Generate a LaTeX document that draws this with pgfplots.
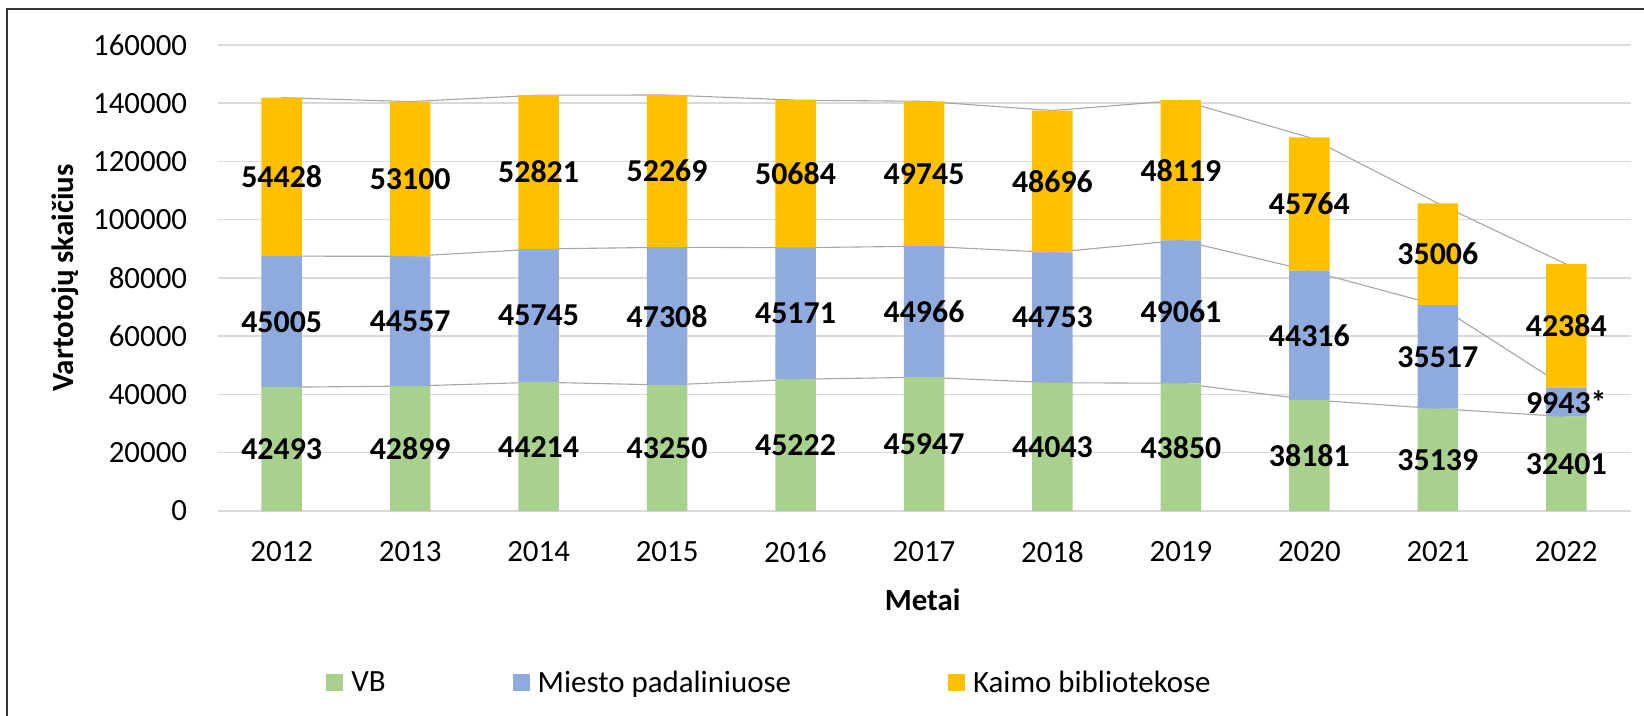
\documentclass[border=0pt]{standalone}
\usepackage{pgfplots}
\pgfplotsset{compat=1.18}
\usepackage{pgfplotstable}
\usepackage{fontspec}
\setmainfont{Carlito}
\definecolor{cVB}{HTML}{A9D18E}
\definecolor{cMiesto}{HTML}{8FAADC}
\definecolor{cKaimo}{HTML}{FFC000}
\definecolor{cGrid}{HTML}{D9D9D9}
\definecolor{cSer}{HTML}{A6A6A6}
\pgfplotstableread{
x year vb miesto kaimo mlab
0 2012 42493 45005 54428 45005
1 2013 42899 44557 53100 44557
2 2014 44214 45745 52821 45745
3 2015 43250 47308 52269 47308
4 2016 45222 45171 50684 45171
5 2017 45947 44966 49745 44966
6 2018 44043 44753 48696 44753
7 2019 43850 49061 48119 49061
8 2020 38181 44316 45764 44316
9 2021 35139 35517 35006 35517
10 2022 32401 9943 42384 9943*
}\data
\pgfplotsset{
  base/.style={
    scale only axis, width=706.5bp, height=233bp,
    at={(108.75bp,102.5bp)}, anchor=south west,
    xmin=-0.5, xmax=10.5, ymin=0, ymax=160000,
    axis line style={draw=none}, major tick length=0pt,
    xtick={0,...,10}, ytick={0,20000,...,160000},
    scaled y ticks=false, clip=false,
  }
}
\begin{document}
\begin{tikzpicture}
\path[use as bounding box] (0,0) rectangle (822bp,358bp);
\draw[line width=1.1bp, black!80] (3.5bp,-5bp) -- (3.5bp,353.4bp) -- (830bp,353.4bp);
% grid + series lines
\begin{axis}[base, ymajorgrids, grid style={cGrid, line width=0.75bp},
  xticklabels={}, yticklabels={}]
\addplot[cSer, line width=0.55bp] table[x=x, y=vb]{\data};
\addplot[cSer, line width=0.55bp] table[x=x, y expr=\thisrow{vb}+\thisrow{miesto}]{\data};
\addplot[cSer, line width=0.55bp] table[x=x, y expr=\thisrow{vb}+\thisrow{miesto}+\thisrow{kaimo}]{\data};
\end{axis}
% bars
\begin{axis}[base, ybar stacked, bar width=20.25bp,
  xticklabels={2012,2013,2014,2015,2016,2017,2018,2019,2020,2021,2022},
  yticklabel style={/pgf/number format/fixed, /pgf/number format/precision=0,
    /pgf/number format/1000 sep={}, /pgf/number format/assume math mode=true},
  tick label style={font=\fontsize{15.5}{18}\selectfont},
  xticklabel style={anchor=center, yshift=-20.5bp},
  yticklabel style={anchor=east, inner sep=0pt, xshift=-15bp},
  label style={font=\bfseries\fontsize{15.5}{18}\selectfont},
  ylabel={Vartotojų skaičius},
  ylabel style={at={(axis description cs:-0.1079,0.5)}, anchor=center},
  xlabel={Metai},
  xlabel style={at={(axis description cs:0.499,-0.191)}, anchor=center},
  legend columns=3,
  legend image code/.code={\fill[#1] (0bp,-4.25bp) rectangle (8.5bp,4.25bp);},
  legend style={draw=none, fill=none, inner sep=0pt,
    at={(axis description cs:0.0768,-0.369)}, anchor=west,
    font=\fontsize{15.5}{18}\selectfont,
    nodes={inner sep=4bp},
    /tikz/column 2/.style={column sep=59.5bp},
    /tikz/column 4/.style={column sep=74.5bp}},
]
\addplot[fill=cVB, draw=none] table[x=x, y=vb]{\data};
\addlegendentry{VB}
\addplot[fill=cMiesto, draw=none] table[x=x, y=miesto]{\data};
\addlegendentry{Miesto padaliniuose}
\addplot[fill=cKaimo, draw=none] table[x=x, y=kaimo]{\data};
\addlegendentry{Kaimo bibliotekose}
\end{axis}
% data labels
\begin{axis}[base, hide axis, nodes near coords, point meta=explicit symbolic,
  nodes near coords align={anchor=center},
  every node near coord/.append style={font=\bfseries\fontsize{16}{18}\selectfont, anchor=center, inner sep=0pt, text=black}]
\addplot[only marks, mark=*, mark size=0pt, mark options={draw=none, fill=none}]
  table[x=x, y expr=\thisrow{vb}/2, meta=vb]{\data};
\addplot[only marks, mark=*, mark size=0pt, mark options={draw=none, fill=none}]
  table[x=x, y expr=\thisrow{vb}+\thisrow{miesto}/2, meta=mlab]{\data};
\addplot[only marks, mark=*, mark size=0pt, mark options={draw=none, fill=none}]
  table[x=x, y expr=\thisrow{vb}+\thisrow{miesto}+\thisrow{kaimo}/2, meta=kaimo]{\data};
\end{axis}
\end{tikzpicture}
\end{document}
